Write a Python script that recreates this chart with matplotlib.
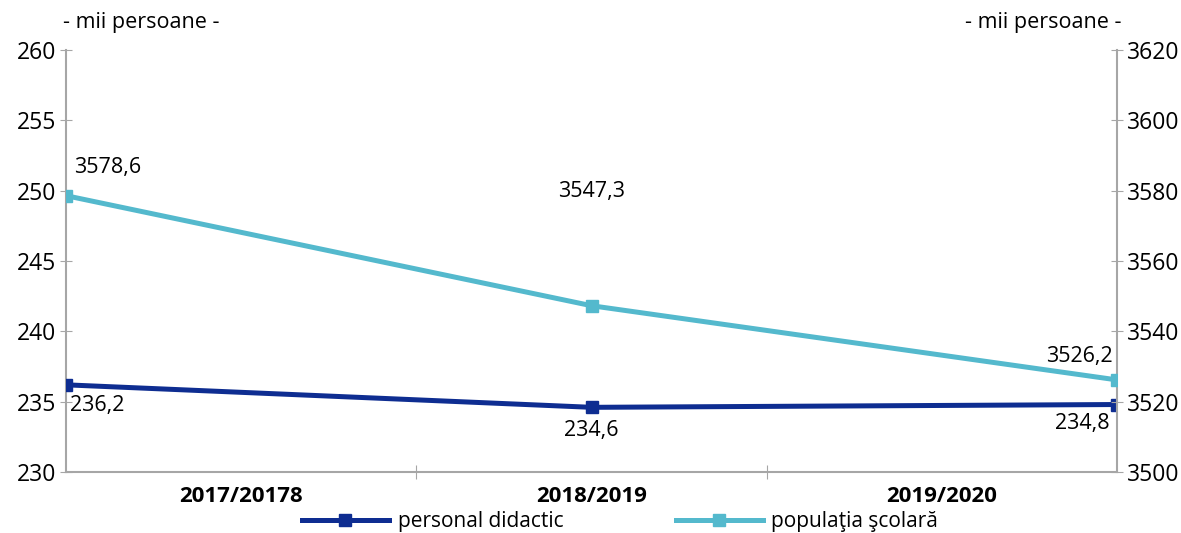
import matplotlib.pyplot as plt
from matplotlib.lines import Line2D

plt.rcParams["font.family"] = ["Open Sans", "DejaVu Sans"]

years = ["2017/20178", "2018/2019", "2019/2020"]
personal = [236.2, 234.6, 234.8]
populatie = [3578.6, 3547.3, 3526.2]
personal_lbl = ["236,2", "234,6", "234,8"]
populatie_lbl = ["3578,6", "3547,3", "3526,2"]

dark = "#0E2D91"
light = "#54B9CD"
spine = "#A6A6A6"

fig = plt.figure(figsize=(11.81, 5.33), dpi=100)
ax = fig.add_axes([0.0559, 0.1144, 0.8899, 0.7916])
ax2 = ax.twinx()

x = list(range(len(years)))
ax.plot(x, personal, color=dark, lw=3.6, marker="s", ms=9, zorder=3)
ax2.plot(x, populatie, color=light, lw=3.6, marker="s", ms=9, zorder=3)

ax.set_xlim(0, 2)
ax.set_ylim(230, 260)
ax.set_yticks(range(230, 261, 5))
ax2.set_ylim(3500, 3620)
ax2.set_yticks(range(3500, 3621, 20))

# category labels centred in thirds, ticks on the boundaries
ax.set_xticks([2 / 3, 4 / 3])
ax.set_xticklabels([])
for i, lab in enumerate(years):
    ax.text((i + 0.5) / 3, -0.032, lab, transform=ax.transAxes, ha="center", va="top",
            fontsize=16, fontweight="bold")

for a in (ax, ax2):
    for s in a.spines.values():
        s.set_visible(False)
ax.spines["left"].set_visible(True)
ax.spines["bottom"].set_visible(True)
ax2.spines["right"].set_visible(True)
for s in (ax.spines["left"], ax.spines["bottom"], ax2.spines["right"]):
    s.set_color(spine)
    s.set_linewidth(1.5)

ax.tick_params(axis="y", direction="inout", length=8, color=spine, labelsize=16.5, pad=3)
ax.tick_params(axis="x", direction="inout", length=10, color=spine)
ax2.tick_params(axis="y", direction="inout", length=8, color=spine, labelsize=16.5, pad=3)

# data labels
ax2.annotate(populatie_lbl[0], (x[0], populatie[0]), xytext=(6, 13), textcoords="offset points",
             ha="left", va="bottom", fontsize=15.5)
ax2.annotate(populatie_lbl[1], (x[1], populatie[1]), xytext=(0, 75), textcoords="offset points",
             ha="center", va="bottom", fontsize=15.5)
ax2.annotate(populatie_lbl[2], (x[2], populatie[2]), xytext=(-3, 9), textcoords="offset points",
             ha="right", va="bottom", fontsize=15.5)
ax.annotate(personal_lbl[0], (x[0], personal[0]), xytext=(3, -7), textcoords="offset points",
            ha="left", va="top", fontsize=15.5)
ax.annotate(personal_lbl[1], (x[1], personal[1]), xytext=(0, -9), textcoords="offset points",
            ha="center", va="top", fontsize=15.5)
ax.annotate(personal_lbl[2], (x[2], personal[2]), xytext=(-5, -6), textcoords="offset points",
            ha="right", va="top", fontsize=15.5)

fig.text(0.053, 0.958, "- mii persoane -", ha="left", va="center", fontsize=15.5)
fig.text(0.950, 0.958, "- mii persoane -", ha="right", va="center", fontsize=15.5)

handles = [
    Line2D([], [], color=dark, lw=3.6, marker="s", ms=9),
    Line2D([], [], color=light, lw=3.6, marker="s", ms=9),
]
fig.legend(handles, ["personal didactic", "populaţia şcolară"], loc="lower center",
           bbox_to_anchor=(0.525, -0.026), ncol=2, frameon=False, fontsize=15,
           handlelength=4.2, columnspacing=5.4, handletextpad=0.4, borderpad=0.2)

fig.savefig("out.png", dpi=100)
